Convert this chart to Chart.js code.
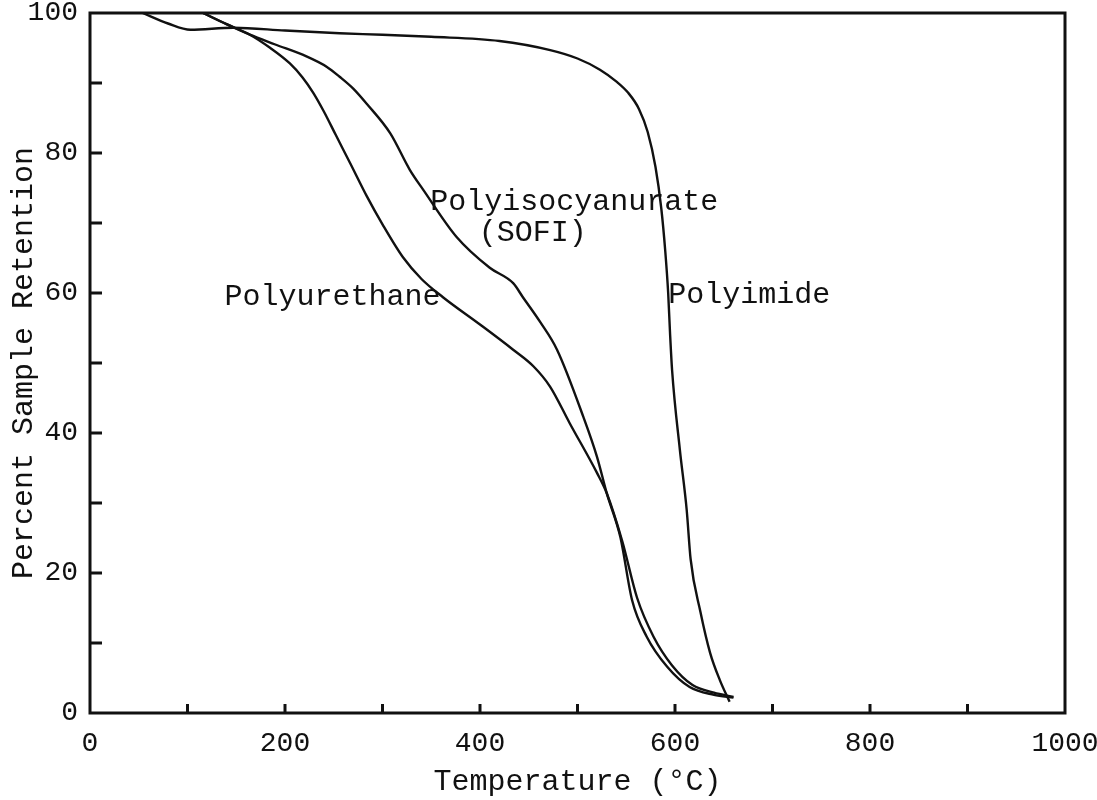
<!DOCTYPE html>
<html>
<head>
<meta charset="utf-8">
<script src="https://cdn.jsdelivr.net/npm/chart.js@4"></script>
<style>
  html, body { margin: 0; padding: 0; background: #fff; }
  #wrap { width: 1097px; height: 800px; }
</style>
</head>
<body>
<div id="wrap"><canvas id="c" width="1097" height="800"></canvas></div>
<script>
// TGA curves (temperature in °C, retention in %)
const polyimideT   = [54, 80, 103, 147, 200, 256, 300, 350, 420, 472, 500, 523, 540, 552, 563, 572, 580, 586, 590, 593, 595, 597, 605, 612, 616, 626, 636, 646, 656];
const polyimideP   = [100, 98.5, 97.6, 97.9, 97.5, 97.1, 96.9, 96.6, 96, 94.7, 93.5, 91.9, 90.2, 88.6, 86.3, 83, 78, 72, 66, 60, 54, 49, 37.6, 29, 22, 14.5, 8.6, 4.7, 1.6];

const urethaneT    = [116, 140, 164, 185, 205, 218, 229, 240, 252, 267, 284, 300, 321, 340, 362, 400, 434, 455, 472, 492, 520, 530, 546, 561, 578, 597, 618, 640, 660];
const urethaneP    = [100, 98.4, 96.9, 95.0, 92.8, 90.8, 88.6, 85.9, 82.6, 78.5, 73.8, 69.8, 65.1, 62, 59.4, 55.5, 51.9, 49.5, 46.6, 41.4, 34.3, 31.4, 24.5, 16.5, 10.9, 6.8, 4.0, 2.9, 2.3];

const isocyanT     = [116, 140, 164, 190, 222, 243, 256, 270, 284, 308, 328, 342, 376, 410, 434, 444, 462, 479, 506, 520, 530, 544, 556, 571, 592, 615, 640, 660];
const isocyanP     = [100, 98.4, 96.9, 95.5, 93.8, 92.3, 90.9, 89.2, 87, 82.8, 77.6, 74.7, 68, 63.6, 61.4, 59.4, 55.8, 51.9, 42.3, 36.6, 31.4, 25.1, 16.1, 10.9, 6.6, 3.7, 2.6, 2.2];

// curve labels: [text, temperature, retention, align]
const curveLabels = [
  ["Polyisocyanurate", 349, 73.0, "left"],
  ["(SOFI)", 454, 68.6, "center"],
  ["Polyurethane", 138, 59.4, "left"],
  ["Polyimide", 593, 59.7, "left"]
];

const xMajor = [0, 200, 400, 600, 800, 1000];
const yMajor = [0, 20, 40, 60, 80, 100];

const FONT = "'Liberation Mono', 'DejaVu Sans Mono', monospace";
const INK = "#111";

function pts(xs, ys) {
  return xs.map((x, i) => ({ x, y: ys[i] }));
}

function curve(label, xs, ys) {
  return {
    label,
    data: pts(xs, ys),
    showLine: true,
    borderColor: INK,
    borderWidth: 2.4,
    pointRadius: 0,
    cubicInterpolationMode: "monotone",
    fill: false,
    clip: false
  };
}

// box frame, inward ticks and the text on the curves
const decor = {
  id: "decor",
  afterDatasetsDraw(chart) {
    const { ctx, chartArea: a, scales: { x, y } } = chart;
    ctx.save();
    ctx.strokeStyle = INK;
    ctx.lineWidth = 3;
    ctx.strokeRect(a.left, a.top, a.right - a.left, a.bottom - a.top);

    for (let v = 100; v < 1000; v += 100) {
      const px = x.getPixelForValue(v);
      ctx.beginPath();
      ctx.moveTo(px, a.bottom);
      ctx.lineTo(px, a.bottom - 9);
      ctx.stroke();
    }
    for (let v = 10; v < 100; v += 10) {
      const py = y.getPixelForValue(v);
      ctx.beginPath();
      ctx.moveTo(a.left, py);
      ctx.lineTo(a.left + 12, py);
      ctx.stroke();
    }

    ctx.fillStyle = INK;
    ctx.font = "30px " + FONT;
    ctx.textBaseline = "middle";
    curveLabels.forEach(([t, tx, ty, al]) => {
      ctx.textAlign = al;
      ctx.fillText(t, x.getPixelForValue(tx), y.getPixelForValue(ty));
    });
    ctx.restore();
  }
};

new Chart(document.getElementById("c"), {
  type: "scatter",
  data: {
    datasets: [
      curve("Polyimide", polyimideT, polyimideP),
      curve("Polyurethane", urethaneT, urethaneP),
      curve("Polyisocyanurate (SOFI)", isocyanT, isocyanP)
    ]
  },
  options: {
    responsive: false,
    animation: false,
    layout: { padding: { top: 13, right: 32, left: 0, bottom: 0 } },
    plugins: { legend: { display: false }, tooltip: { enabled: false } },
    scales: {
      x: {
        type: "linear",
        min: 0,
        max: 1000,
        afterFit: s => { s.height = 87; s.paddingRight = 0; s.paddingLeft = 0; },
        afterBuildTicks: s => { s.ticks = xMajor.map(v => ({ value: v })); },
        grid: { display: false },
        border: { display: false },
        ticks: {
          color: INK,
          padding: 6,
          maxRotation: 0,
          font: { family: FONT, size: 28 },
          callback: v => String(v)
        },
        title: {
          display: true,
          text: "Temperature (°C)",
          color: INK,
          padding: { top: 8, bottom: 0 },
          font: { family: FONT, size: 30 }
        }
      },
      y: {
        type: "linear",
        min: 0,
        max: 100,
        afterFit: s => { s.width = 90; s.paddingTop = 0; s.paddingBottom = 0; },
        afterBuildTicks: s => { s.ticks = yMajor.map(v => ({ value: v })); },
        grid: { display: false },
        border: { display: false },
        ticks: {
          color: INK,
          padding: 4,
          font: { family: FONT, size: 28 },
          callback: v => String(v)
        },
        title: {
          display: true,
          text: "Percent Sample Retention",
          color: INK,
          padding: { top: 6, bottom: 4 },
          font: { family: FONT, size: 30 }
        }
      }
    }
  },
  plugins: [decor]
});
</script>
</body>
</html>
